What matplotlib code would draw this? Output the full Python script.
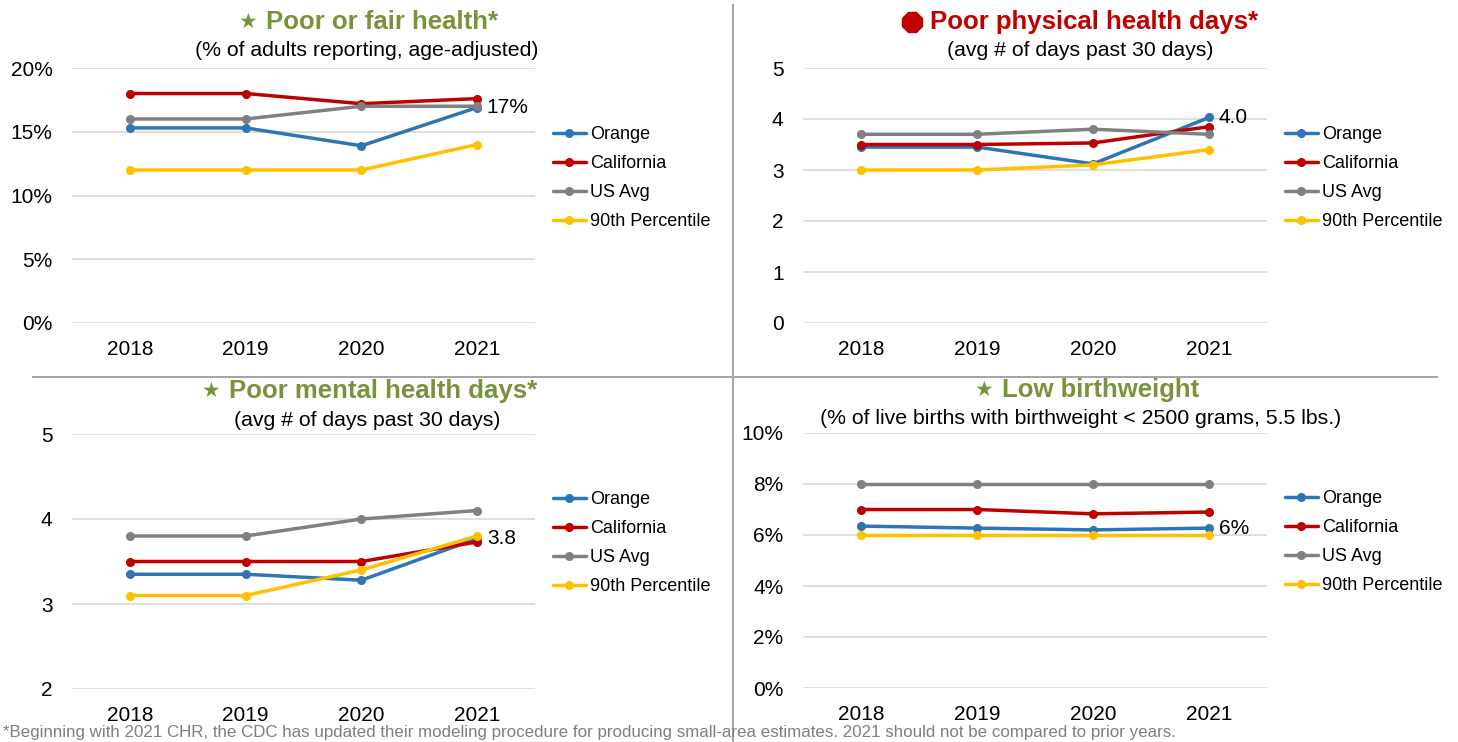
import matplotlib
matplotlib.use("Agg")
import matplotlib.pyplot as plt
from matplotlib.lines import Line2D
from matplotlib.ticker import FuncFormatter

plt.rcParams['font.family'] = ['Liberation Sans', 'DejaVu Sans']

years = ["2018", "2019", "2020", "2021"]
series_names = ["Orange", "California", "US Avg", "90th Percentile"]
colors = ["#2E75B6", "#C00000", "#808080", "#FFC000"]

# Poor or fair health (%)
pf_orange = [15.3, 15.3, 13.9, 16.9]
pf_ca = [18.0, 18.0, 17.2, 17.6]
pf_us = [16.0, 16.0, 17.0, 17.0]
pf_p90 = [12.0, 12.0, 12.0, 14.0]

# Poor physical health days
ph_orange = [3.45, 3.45, 3.12, 4.03]
ph_ca = [3.5, 3.5, 3.53, 3.85]
ph_us = [3.7, 3.7, 3.8, 3.7]
ph_p90 = [3.0, 3.0, 3.1, 3.4]

# Poor mental health days
mh_orange = [3.35, 3.35, 3.28, 3.77]
mh_ca = [3.5, 3.5, 3.5, 3.73]
mh_us = [3.8, 3.8, 4.0, 4.1]
mh_p90 = [3.1, 3.1, 3.4, 3.8]

# Low birthweight (%)
lb_orange = [6.35, 6.27, 6.2, 6.27]
lb_ca = [7.0, 7.0, 6.83, 6.9]
lb_us = [8.0, 8.0, 8.0, 8.0]
lb_p90 = [6.0, 6.0, 6.0, 6.0]

W, H = 1458, 742
fig = plt.figure(figsize=(W / 100, H / 100), dpi=100)

def fx(px):
    return px / W

def fy(py):
    return 1 - py / H

panels = [
    dict(rect=(72, 535, 68, 323), data=[pf_orange, pf_ca, pf_us, pf_p90],
         ylim=(0, 20), ticks=[0, 5, 10, 15, 20], fmt=lambda v, p: f"{v:.0f}%",
         label="17%", title="Poor or fair health*", tcolor="#77933C", icon="star",
         title_c=372, title_y=22, sub="(% of adults reporting, age-adjusted)", sub_c=367, sub_y=50,
         leg=(553, 126)),
    dict(rect=(803, 1267, 68, 323), data=[ph_orange, ph_ca, ph_us, ph_p90],
         ylim=(0, 5), ticks=[0, 1, 2, 3, 4, 5], fmt=lambda v, p: f"{v:.0f}",
         label="4.0", title="Poor physical health days*", tcolor="#C00000", icon="oct",
         title_c=1084, title_y=22, sub="(avg # of days past 30 days)", sub_c=1080, sub_y=50,
         leg=(1285, 126)),
    dict(rect=(72, 535, 434, 689), data=[mh_orange, mh_ca, mh_us, mh_p90],
         ylim=(2, 5), ticks=[2, 3, 4, 5], fmt=lambda v, p: f"{v:.0f}",
         label="3.8", title="Poor mental health days*", tcolor="#77933C", icon="star",
         title_c=373, title_y=391, sub="(avg # of days past 30 days)", sub_c=367, sub_y=420,
         leg=(553, 491)),
    dict(rect=(803, 1267, 433, 688), data=[lb_orange, lb_ca, lb_us, lb_p90],
         ylim=(0, 10), ticks=[0, 2, 4, 6, 8, 10], fmt=lambda v, p: f"{v:.0f}%",
         label="6%", title="Low birthweight", tcolor="#77933C", icon="star",
         title_c=1091, title_y=390, sub="(% of live births with birthweight < 2500 grams, 5.5 lbs.)",
         sub_c=1081, sub_y=418, leg=(1285, 490)),
]

x = list(range(len(years)))

for p in panels:
    x0, x1, y0, y1 = p["rect"]
    ax = fig.add_axes([fx(x0), fy(y1), (x1 - x0) / W, (y1 - y0) / H])
    for vals, name, c in zip(p["data"], series_names, colors):
        ax.plot(x, vals, color=c, lw=2.5, marker="o", ms=5.5, label=name,
                solid_capstyle="round")
    ax.set_xlim(-0.5, len(years) - 0.5)
    ax.set_ylim(*p["ylim"])
    ax.set_yticks(p["ticks"])
    ax.yaxis.set_major_formatter(FuncFormatter(p["fmt"]))
    ax.set_xticks(x)
    ax.set_xticklabels(years)
    ax.grid(axis="y", color="#D9D9D9", lw=1.2)
    ax.set_axisbelow(True)
    for s in ax.spines.values():
        s.set_visible(False)
    ax.tick_params(axis="both", length=0, labelsize=15, colors="black")
    ax.tick_params(axis="x", pad=12)
    ax.tick_params(axis="y", pad=14)
    # data label on Orange's last point
    ax.annotate(p["label"], xy=(x[-1], p["data"][0][-1]), xytext=(7, 0),
                textcoords="offset points", ha="left", va="center", fontsize=15)
    lx, ly = p["leg"]
    ax.legend(loc="upper left", bbox_to_anchor=(fx(lx), fy(ly)), bbox_transform=fig.transFigure,
              frameon=False, fontsize=13, handlelength=1.8, handletextpad=0.25,
              labelspacing=0.67, borderpad=0, borderaxespad=0)
    # title with icon
    t = fig.text(fx(p["title_c"] + 10), fy(p["title_y"]), p["title"], ha="center", va="center",
                 fontsize=18.5, fontweight="bold", color=p["tcolor"])
    fig.canvas.draw()
    bb = t.get_window_extent()
    icon_x = (bb.x0 - 18) / W
    if p["icon"] == "star":
        fig.text(icon_x, fy(p["title_y"]), "★", ha="center", va="center", fontsize=15,
                 color=p["tcolor"], family=["DejaVu Sans"])
    else:
        fig.add_artist(Line2D([icon_x], [fy(p["title_y"])], transform=fig.transFigure,
                              marker="8", ms=15, color=p["tcolor"], lw=0))
    fig.text(fx(p["sub_c"]), fy(p["sub_y"]), p["sub"], ha="center", va="center", fontsize=15.3)

# dividers
fig.add_artist(Line2D([fx(733), fx(733)], [fy(5), 0], transform=fig.transFigure,
                      color="#A6A6A6", lw=1.5))
fig.add_artist(Line2D([fx(33), fx(1437)], [fy(377), fy(377)], transform=fig.transFigure,
                      color="#A6A6A6", lw=1.5))

fig.text(fx(3), fy(732), "*Beginning with 2021 CHR, the CDC has updated their modeling procedure for "
         "producing small-area estimates. 2021 should not be compared to prior years.",
         ha="left", va="center", fontsize=12.2, color="#7F7F7F")

fig.savefig("out.png", dpi=100)
